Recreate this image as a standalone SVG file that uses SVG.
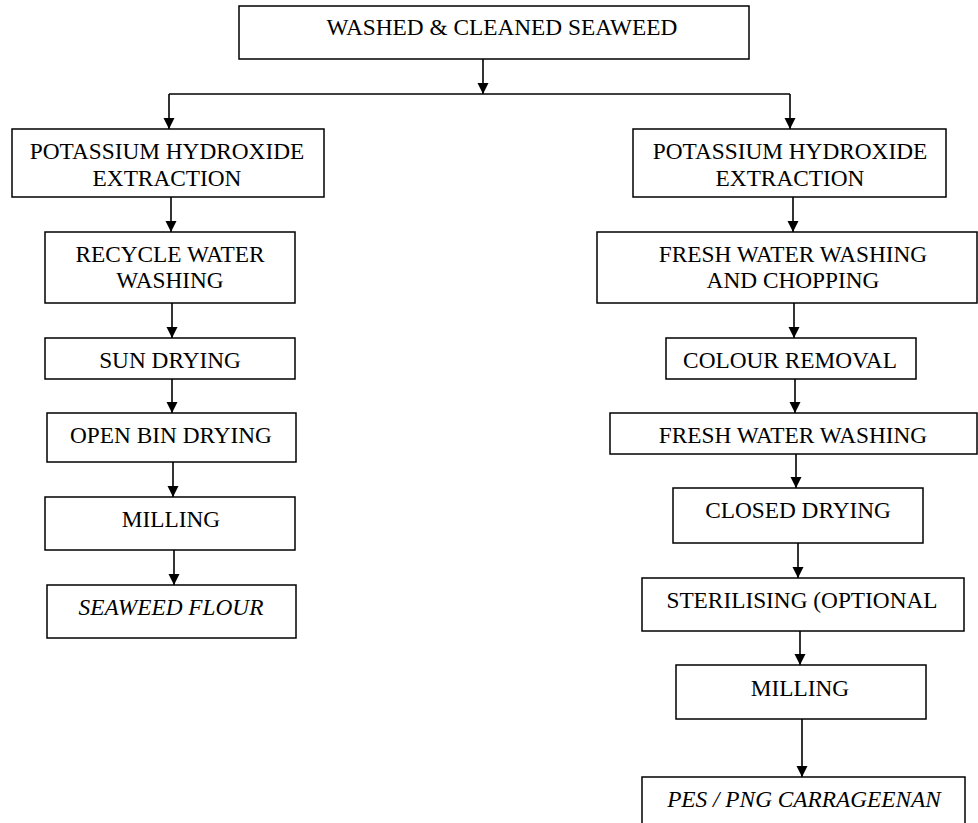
<svg xmlns="http://www.w3.org/2000/svg" width="978" height="823" viewBox="0 0 978 823">
<style>
.box{fill:#fff;stroke:#000;stroke-width:1.5}
.c{fill:none;stroke:#000;stroke-width:1.6}
text{font-family:'Liberation Serif','Times New Roman',serif;font-size:23.3px;fill:#000;text-anchor:middle}
.i{font-style:italic}
</style>
<defs>
<marker id="ah" markerUnits="userSpaceOnUse" markerWidth="12" markerHeight="12" refX="11" refY="6" orient="auto">
<path d="M0,0.5 L11,6 L0,11.5 z" fill="#000"/>
</marker>
</defs>
<rect width="978" height="823" fill="#fff"/>
<g id="connectors">
<path class="c" d="M483,59 L483,94" marker-end="url(#ah)"/>
<path class="c" d="M169,94 L790,94"/>
<path class="c" d="M169,94 L169,129" marker-end="url(#ah)"/>
<path class="c" d="M790,94 L790,129" marker-end="url(#ah)"/>
<path class="c" d="M171,197 L171,232" marker-end="url(#ah)"/>
<path class="c" d="M172,303 L172,338" marker-end="url(#ah)"/>
<path class="c" d="M172,379 L172,413" marker-end="url(#ah)"/>
<path class="c" d="M173,462 L173,497" marker-end="url(#ah)"/>
<path class="c" d="M174,550 L174,585" marker-end="url(#ah)"/>
<path class="c" d="M793,197 L793,232" marker-end="url(#ah)"/>
<path class="c" d="M794,303 L794,338" marker-end="url(#ah)"/>
<path class="c" d="M795,379 L795,413" marker-end="url(#ah)"/>
<path class="c" d="M796,454 L796,488" marker-end="url(#ah)"/>
<path class="c" d="M798,543 L798,578" marker-end="url(#ah)"/>
<path class="c" d="M800,631 L800,665" marker-end="url(#ah)"/>
<path class="c" d="M802,719 L802,777" marker-end="url(#ah)"/>
</g>
<g id="n-top"><rect class="box" x="239" y="6" width="510" height="53"/><text x="502" y="35">WASHED &amp; CLEANED SEAWEED</text></g>
<g id="n-l1"><rect class="box" x="12" y="129" width="312" height="68"/><text x="167" y="159">POTASSIUM HYDROXIDE</text><text x="167" y="186">EXTRACTION</text></g>
<g id="n-l2"><rect class="box" x="45" y="232" width="250" height="71"/><text x="170" y="262">RECYCLE WATER</text><text x="170" y="288">WASHING</text></g>
<g id="n-l3"><rect class="box" x="45" y="338" width="250" height="41"/><text x="170" y="368">SUN DRYING</text></g>
<g id="n-l4"><rect class="box" x="47" y="413" width="249" height="49"/><text x="171" y="443">OPEN BIN DRYING</text></g>
<g id="n-l5"><rect class="box" x="45" y="497" width="250" height="53"/><text x="171" y="527">MILLING</text></g>
<g id="n-l6"><rect class="box" x="47" y="585" width="249" height="53"/><text class="i" x="171" y="615">SEAWEED FLOUR</text></g>
<g id="n-r1"><rect class="box" x="633" y="129" width="313" height="68"/><text x="790" y="159">POTASSIUM HYDROXIDE</text><text x="790" y="186">EXTRACTION</text></g>
<g id="n-r2"><rect class="box" x="597" y="232" width="380" height="71"/><text x="793" y="262">FRESH WATER WASHING</text><text x="793" y="288">AND CHOPPING</text></g>
<g id="n-r3"><rect class="box" x="666" y="338" width="250" height="41"/><text x="790" y="368">COLOUR REMOVAL</text></g>
<g id="n-r4"><rect class="box" x="610" y="413" width="367" height="41"/><text x="793" y="443">FRESH WATER WASHING</text></g>
<g id="n-r5"><rect class="box" x="673" y="488" width="250" height="55"/><text x="798" y="518">CLOSED DRYING</text></g>
<g id="n-r6"><rect class="box" x="642" y="578" width="322" height="53"/><text x="802" y="608">STERILISING (OPTIONAL</text></g>
<g id="n-r7"><rect class="box" x="676" y="665" width="250" height="54"/><text x="800" y="696">MILLING</text></g>
<g id="n-r8"><rect class="box" x="642" y="777" width="323" height="54"/><text class="i" x="804" y="807">PES / PNG CARRAGEENAN</text></g>
</svg>
